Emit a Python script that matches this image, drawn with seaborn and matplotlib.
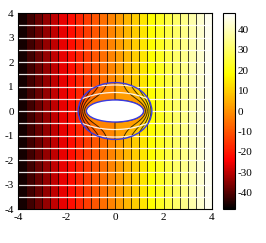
import numpy as np
import seaborn as sns
import matplotlib
matplotlib.use("Agg")
import matplotlib.pyplot as plt
from matplotlib.colors import LinearSegmentedColormap, Normalize
from matplotlib.cm import ScalarMappable
from matplotlib.patches import Ellipse

# field / geometry values
field_slope = 12.0            # potential = slope * x  (-48 .. 48 over -4 .. 4)
x_range = [-4, 4]
y_range = [-4, 4]
outer_axes = [1.52, 1.16]     # semi-axes of the outer (blue) ellipse
inner_axes = [1.18, 0.45]     # semi-axes of the hole
pot_levels = list(range(-48, 49, 4))
stream_levels = [-3.5, -3.0, -2.5, -2.0, -1.5, -1.0, -0.5, 0.0,
                 0.5, 1.0, 1.5, 2.0, 2.5, 3.0, 3.5]
cbar_range = [-48, 48]
cbar_ticks = [-40, -30, -20, -10, 0, 10, 20, 30, 40]
xticks = [-4, -2, 0, 2, 4]
yticks = [-4, -3, -2, -1, 0, 1, 2, 3, 4]

sns.set_theme(style="white")
plt.rcParams['font.family'] = ['Liberation Serif', 'DejaVu Serif']
plt.rcParams['font.size'] = 8
plt.rcParams['axes.unicode_minus'] = False
plt.rcParams['contour.negative_linestyle'] = 'solid'

cmap = LinearSegmentedColormap.from_list(
    "hotish", [(0.0, "black"), (0.25, "red"), (0.69, "yellow"), (1.0, "white")])
norm = Normalize(vmin=cbar_range[0], vmax=cbar_range[1])

fig = plt.figure(figsize=(2.66, 2.43), dpi=100)
ax = fig.add_axes([18 / 266, 1 - 209 / 243, 194 / 266, 196 / 243])
cax = fig.add_axes([223 / 266, 1 - 209 / 243, 12 / 266, 196 / 243])

# background: uniform field
xs = np.linspace(x_range[0], x_range[1], 401)
ys = np.linspace(y_range[0], y_range[1], 401)
X, Y = np.meshgrid(xs, ys)
U = field_slope * X
ax.contourf(X, Y, U, levels=pot_levels, cmap=cmap, norm=norm, zorder=1)
ax.contour(X, Y, U, levels=pot_levels, colors="black", linewidths=0.7,
           linestyles="solid", alpha=0.75, zorder=2)
ax.contour(X, Y, Y, levels=stream_levels, colors="white", linewidths=0.9,
           linestyles="solid", alpha=0.9, zorder=2)

# cloak shell: linear map of the full outer ellipse onto the annulus
t = np.linspace(0, 1, 80)
th = np.linspace(0, 2 * np.pi, 721)
T, TH = np.meshgrid(t, th)
a1, b1 = inner_axes
a2, b2 = outer_axes
XS = (a1 + T * (a2 - a1)) * np.cos(TH)
YS = (b1 + T * (b2 - b1)) * np.sin(TH)
US = field_slope * T * a2 * np.cos(TH)
PS = T * b2 * np.sin(TH)
ax.contourf(XS, YS, US, levels=pot_levels, cmap=cmap, norm=norm, zorder=3,
            antialiased=True)
ax.contour(XS, YS, US, levels=pot_levels, colors="black", linewidths=0.7,
           linestyles="solid", alpha=0.75, zorder=4)
ax.contour(XS, YS, PS, levels=[l for l in stream_levels if l != 0.0],
           colors="white", linewidths=0.9, linestyles="solid", alpha=0.9,
           zorder=4)

ax.add_patch(Ellipse((0, 0), 2 * a1, 2 * b1, facecolor="white",
                     edgecolor="#3a3ae0", linewidth=1.0, zorder=5))
ax.add_patch(Ellipse((0, 0), 2 * a2, 2 * b2, facecolor="none",
                     edgecolor="#3a3ae0", linewidth=1.0, zorder=5))

ax.set_xlim(x_range)
ax.set_ylim(y_range)
ax.set_xticks(xticks)
ax.set_yticks(yticks)
ax.tick_params(direction="in", length=2, width=0.6, pad=3, labelsize=8,
               colors="black")
for s in ax.spines.values():
    s.set_visible(True)
    s.set_color("black")
    s.set_linewidth(0.8)
    s.set_zorder(10)

cb = fig.colorbar(ScalarMappable(norm=norm, cmap=cmap), cax=cax)
cb.set_ticks(cbar_ticks)
cb.ax.tick_params(direction="in", length=2, width=0.6, pad=2, labelsize=8,
                  colors="black")
cb.outline.set_edgecolor("black")
cb.outline.set_linewidth(0.8)

fig.savefig("out.png", dpi=100)
